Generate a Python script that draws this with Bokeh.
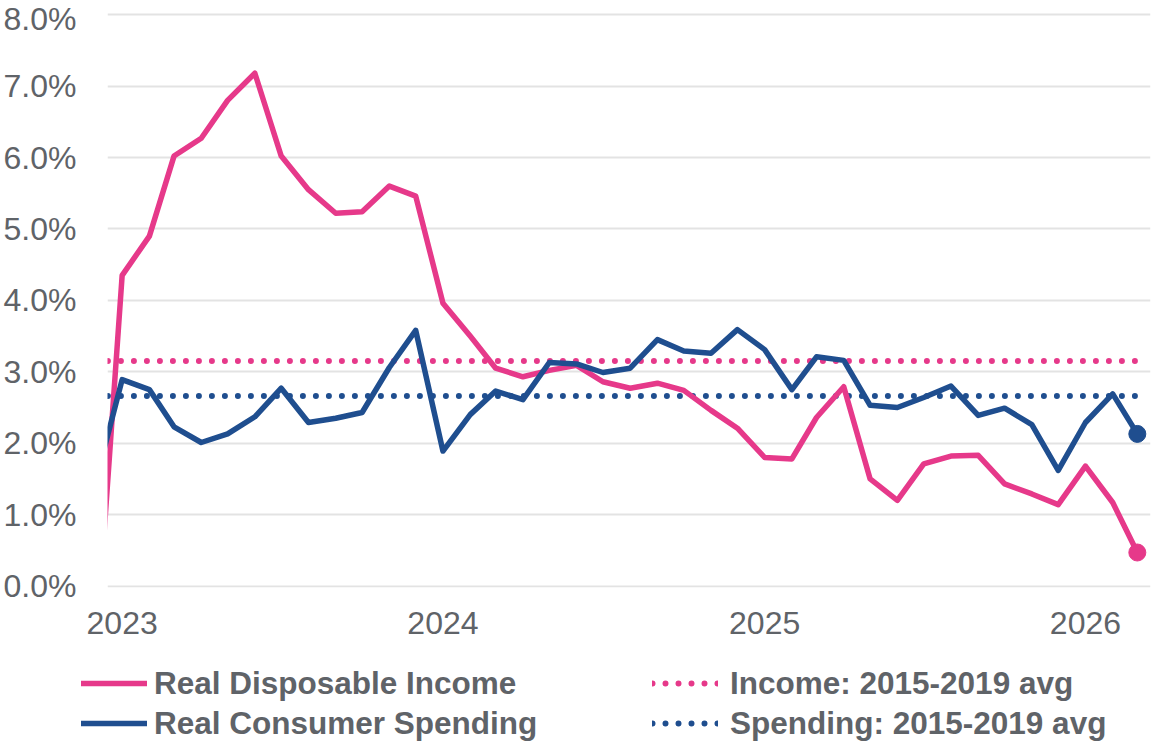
import pandas as pd
from datetime import datetime
from bokeh.plotting import figure
from bokeh.layouts import column
from bokeh.models import (Range1d, FixedTicker, PrintfTickFormatter, DatetimeTickFormatter,
                          Legend, LegendItem)
from bokeh.embed import file_html
from bokeh.resources import INLINE

# ---------------- data ----------------
months = pd.date_range("2022-12-01", "2026-03-01", freq="MS")

income = [
    -1.09,
    4.35, 4.90, 6.02, 6.27, 6.80, 7.18, 6.02, 5.55, 5.22, 5.24, 5.60, 5.46,
    3.96, 3.50, 3.05, 2.93, 3.02, 3.09, 2.86, 2.77, 2.84, 2.74, 2.46, 2.21,
    1.80, 1.78, 2.36, 2.79, 1.50, 1.20, 1.71, 1.82, 1.83, 1.43, 1.29, 1.14,
    1.68, 1.17, 0.47,
]
spending = [
    1.42,
    2.89, 2.75, 2.23, 2.01, 2.13, 2.37, 2.77, 2.29, 2.35, 2.43, 3.06, 3.58,
    1.89, 2.40, 2.73, 2.61, 3.13, 3.11, 2.99, 3.05, 3.45, 3.29, 3.26, 3.59,
    3.31, 2.75, 3.21, 3.16, 2.53, 2.50, 2.64, 2.80, 2.39, 2.49, 2.26, 1.62,
    2.29, 2.69, 2.13,
]
income_avg_value = 3.15
spending_avg_value = 2.66
income_avg = [income_avg_value] * len(months)
spending_avg = [spending_avg_value] * len(months)

year_tick_dates = ["2023-01-01", "2024-01-01", "2025-01-01", "2026-01-01"]
y_ticks = [0, 1, 2, 3, 4, 5, 6, 7, 8]

series_names = ["Real Disposable Income", "Real Consumer Spending",
                "Income: 2015-2019 avg", "Spending: 2015-2019 avg"]

# ---------------- style ----------------
PINK = "#E6398A"
BLUE = "#1F4E8F"
TEXT = "#5F6368"
GRID = "#E3E3E3"
FONT = "Liberation Sans"

W = 1151
H1 = 652
H2 = 92
LW = 5.5
DW = 6
DOT = "0 13"

p = figure(width=W, height=H1, x_axis_type="datetime",
           output_backend="svg", toolbar_location=None,
           x_range=Range1d(datetime(2022, 12, 15, 8), datetime(2026, 3, 16)),
           y_range=Range1d(-0.02, 8.03),
           min_border_left=106, min_border_right=1,
           min_border_top=12, min_border_bottom=65)
p.frame_align = False
p.outline_line_color = None
p.background_fill_color = "white"
p.border_fill_color = "white"

tick_ms = [pd.Timestamp(d).value // 10**6 for d in year_tick_dates]
p.xaxis.ticker = FixedTicker(ticks=tick_ms)
p.xaxis.formatter = DatetimeTickFormatter(years="%Y", months="%Y", days="%Y",
                                          hours="%Y", minutes="%Y", seconds="%Y",
                                          milliseconds="%Y", microseconds="%Y")
p.yaxis.ticker = FixedTicker(ticks=y_ticks)
p.yaxis.formatter = PrintfTickFormatter(format="%.1f%%")
for ax in (p.xaxis, p.yaxis):
    ax.axis_line_color = None
    ax.major_tick_line_color = None
    ax.minor_tick_line_color = None
    ax.major_tick_out = 0
    ax.major_tick_in = 0
    ax.minor_tick_out = 0
    ax.minor_tick_in = 0
    ax.major_label_text_font = FONT
    ax.major_label_text_font_size = "32px"
    ax.major_label_text_color = TEXT
p.yaxis.major_label_standoff = 31
p.xaxis.major_label_standoff = 24

p.xgrid.grid_line_color = None
p.ygrid.ticker = FixedTicker(ticks=y_ticks)
p.ygrid.grid_line_color = GRID
p.ygrid.grid_line_width = 2

p.line(months, income_avg, line_color=PINK, line_width=DW,
       line_dash=DOT, line_cap="round")
p.line(months, spending_avg, line_color=BLUE, line_width=DW,
       line_dash=DOT, line_cap="round")
p.line(months, income, line_color=PINK, line_width=LW,
       line_join="round", line_cap="round")
p.line(months, spending, line_color=BLUE, line_width=LW,
       line_join="round", line_cap="round")
p.scatter([months[-1]], [income[-1]], size=17, color=PINK)
p.scatter([months[-1]], [spending[-1]], size=17, color=BLUE)

# ---------------- legend strip ----------------
# a second, axis-less figure whose ranges exclude the data, so its
# renderers only serve as legend glyph styles
lf = figure(width=W, height=H2, output_backend="svg", toolbar_location=None,
            x_axis_location=None, y_axis_location=None,
            x_range=Range1d(0, 1), y_range=Range1d(100, 101),
            min_border=0, min_border_left=0, min_border_right=0,
            min_border_top=0, min_border_bottom=0)
lf.frame_align = False
lf.outline_line_color = None
lf.grid.visible = False
lf.border_fill_color = "white"
lf.background_fill_color = "white"

g_inc = lf.line(months, income, line_color=PINK, line_width=LW, line_cap="round")
g_sp = lf.line(months, spending, line_color=BLUE, line_width=LW, line_cap="round")
g_inc_avg = lf.line(months, income_avg, line_color=PINK, line_width=DW,
                    line_dash=DOT, line_cap="round")
g_sp_avg = lf.line(months, spending_avg, line_color=BLUE, line_width=DW,
                   line_dash=DOT, line_cap="round")


def make_legend(items, loc, standoff, gw):
    return Legend(items=items, location=loc, orientation="vertical",
                  padding=0, margin=0, spacing=0,
                  border_line_alpha=0, background_fill_alpha=0,
                  glyph_width=gw, glyph_height=40, label_height=40,
                  label_standoff=standoff,
                  label_text_font=FONT, label_text_font_style="bold",
                  label_text_font_size="31.5px", label_text_color=TEXT)


leg1 = make_legend([LegendItem(label=series_names[0], renderers=[g_inc]),
                    LegendItem(label=series_names[1], renderers=[g_sp])],
                   (81, 1), 7, 66)
leg2 = make_legend([LegendItem(label=series_names[2], renderers=[g_inc_avg]),
                    LegendItem(label=series_names[3], renderers=[g_sp_avg])],
                   (652, 1), 12, 66)
lf.add_layout(leg1)
lf.add_layout(leg2)

layout = column(p, lf, spacing=0)
open("out.html", "w").write(file_html(layout, INLINE))
